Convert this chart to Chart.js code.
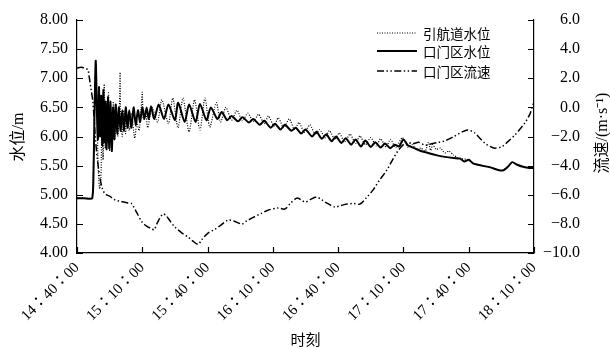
<!DOCTYPE html>
<html>
<head>
<meta charset="utf-8">
<script src="https://cdn.jsdelivr.net/npm/chart.js@4/dist/chart.umd.min.js"></script>
<style>
  html, body { margin: 0; padding: 0; background: #fff; }
  #wrap { width: 610px; height: 348px; position: relative; }
</style>
</head>
<body>
<div id="wrap"><canvas id="c"></canvas></div>
<script>
// Time axis: minutes after 14:40:00, ticks every 30 min
const tickLabels = ['14：40：00', '15：10：00', '15：40：00', '16：10：00',
                    '16：40：00', '17：10：00', '17：40：00', '18：10：00'];

// 引航道水位 (m)
const channelTimes = [
  0, 3, 6, 7, 7.6, 8.2, 8.8, 9.3, 9.8, 10.4,
  11, 11.5, 12, 12.5, 13, 13.5, 14, 14.5, 15, 15.5,
  16, 16.7, 17.3, 18, 18.7, 19.5, 19.8, 20.1, 20.8, 21.5,
  22.3, 23, 24, 25, 26.5, 27.5, 28.5, 29.5, 30, 30.4,
  31.5, 32.5, 34.5, 37,
  39, 42, 44, 46.4, 48.7, 51.5, 54, 56.5, 58.8, 61,
  64, 66, 68.4, 71, 73.5, 76, 78.5, 81, 83.5, 86,
  88, 90.5, 92.5, 95, 97.5, 100, 102, 104.5, 107, 109.5,
  111.5, 114, 116, 118.5, 120.5, 123, 125.5, 128, 130, 132.5,
  135, 137.5, 139.5, 142, 144, 146.5, 149.5, 152,
  154, 156, 158, 160, 161.5, 162.5, 163.5, 165, 167, 169,
  171, 173, 175, 177,
  180, 182, 186, 190, 194, 196, 198, 200, 202, 205, 208, 210
];
const channelLevels = [
  4.95, 4.94, 4.94, 4.95, 5.6, 6.8, 7.22, 6.2, 5.4, 5.1,
  5.3, 6.4, 5.6, 6.9, 5.8, 6.6, 5.9, 6.75, 5.75, 6.5,
  5.85, 6.6, 5.95, 6.45, 6.0, 6.5, 7.1, 6.3, 6.0, 6.45,
  6.05, 6.4, 6.1, 6.4, 5.97, 6.25, 6.1, 6.5, 6.76, 6.3,
  6.45, 6.15, 6.5, 6.25,
  6.63, 6.22, 6.66, 6.15, 6.66, 6.08, 6.63, 6.11, 6.66, 6.16,
  6.58, 6.25, 6.5, 6.28, 6.45, 6.27, 6.4, 6.26, 6.38, 6.22,
  6.35, 6.18, 6.32, 6.15, 6.30, 6.12, 6.24, 6.07, 6.20, 6.03,
  6.12, 5.98, 6.10, 5.95, 6.06, 5.91, 6.04, 5.88, 6.01, 5.86,
  5.98, 5.84, 5.96, 5.82, 5.95, 5.81, 5.98, 5.82,
  5.86, 5.78, 5.8, 5.75, 5.9, 5.76, 5.86, 5.78, 5.8, 5.72,
  5.75, 5.68, 5.64, 5.62,
  5.6, 5.54, 5.5, 5.47, 5.42, 5.42, 5.48, 5.56, 5.52, 5.48, 5.46, 5.46
];

// 口门区水位 (m)
const mouthTimes = [
  0, 3, 6, 7, 7.5, 8, 8.6, 9.1, 9.6, 10.1,
  10.6, 11.1, 11.6, 12.1, 12.6, 13.1, 13.6, 14.2, 14.8, 15.4,
  16, 16.6, 17.2, 17.8, 18.5, 19.2, 20, 20.8, 21.6, 22.4,
  23.2, 24, 25, 26, 27, 28, 29, 30, 31, 32,
  33, 34, 35.5, 37.5, 40, 42, 45, 46.5, 49.5, 51.5,
  54.5, 56.5, 59.5, 61.5, 64.5, 66.5, 69, 71, 74, 76,
  79, 81, 84, 86, 89, 91, 93.5, 95.5, 98.5, 100.5,
  103, 105, 108, 110, 112.5, 114.5, 117, 119, 121.5, 123.5,
  126, 128, 130.5, 132.5, 135, 137, 139.5, 141.5, 144, 146,
  148, 150, 152, 155, 158, 161, 165, 169, 173, 176,
  178, 180, 182, 186, 190, 194, 196, 198, 200, 202,
  205, 208, 210
];
const mouthLevels = [
  4.94, 4.94, 4.93, 4.94, 5.2, 6.3, 7.3, 6.5, 5.95, 6.85,
  6.0, 6.7, 5.85, 6.8, 5.9, 6.6, 5.78, 6.68, 5.8, 6.6,
  5.75, 6.5, 5.95, 6.55, 6.05, 6.5, 6.1, 6.45, 6.1, 6.5,
  6.15, 6.45, 6.15, 6.5, 6.2, 6.45, 6.25, 6.5, 6.3, 6.5,
  6.3, 6.52, 6.3, 6.55, 6.3, 6.55, 6.28, 6.58, 6.25, 6.55,
  6.25, 6.56, 6.28, 6.5, 6.3, 6.42, 6.28, 6.35, 6.26, 6.33,
  6.24, 6.3, 6.2, 6.27, 6.15, 6.22, 6.12, 6.2, 6.1, 6.15,
  6.05, 6.12, 6.0, 6.08, 5.96, 6.04, 5.92, 6.0, 5.89, 5.97,
  5.86, 5.95, 5.83, 5.93, 5.82, 5.9, 5.81, 5.88, 5.8, 5.86,
  5.83, 5.95, 5.85, 5.8, 5.75, 5.72, 5.68, 5.65, 5.63, 5.62,
  5.57, 5.6, 5.54, 5.5, 5.47, 5.42, 5.42, 5.48, 5.56, 5.52,
  5.48, 5.46, 5.46
];

// 口门区流速 (m/s)
const speedTimes = [
  0, 2, 4, 5, 5.5, 6.5, 7.3, 8.3, 9.3, 10.5,
  11.7, 13, 15, 17.5, 20, 23.4, 25, 27, 29.9, 32,
  34.5, 35.5, 37, 39.5, 41, 43, 45, 48, 51, 53,
  55.6, 57.5, 60.2, 63, 66, 69.4, 72, 75.8, 78, 81,
  85, 88, 92.3, 95.5, 98, 101, 103, 105, 107, 110,
  112, 114.8, 118.5, 121, 124, 127, 130, 133, 136, 139,
  142.4, 145, 148.4, 151.6, 154.3, 157, 160, 163, 166, 169,
  172.7, 176.8, 179.6, 182.8, 185, 187.4, 190, 192, 195.2, 198,
  201.2, 203.5, 205.8, 208, 209.5, 210
];
const speedValues = [
  2.7, 2.75, 2.65, 2.6, 2.2, 1.2, 0.4, -1.8, -3.5, -4.8,
  -5.6, -5.95, -6.1, -6.36, -6.45, -6.57, -6.6, -7.1, -7.87, -8.15,
  -8.35, -8.4, -7.9, -7.32, -7.45, -7.85, -8.22, -8.6, -8.9, -9.15,
  -9.4, -9.05, -8.63, -8.4, -8.1, -7.74, -7.8, -8.01, -7.8, -7.55,
  -7.26, -7.05, -6.91, -6.98, -6.6, -6.23, -6.35, -6.5, -6.35, -6.16,
  -6.3, -6.57, -6.84, -6.75, -6.64, -6.6, -6.64, -6.2, -5.68, -5.0,
  -4.3, -3.6, -2.8, -2.4, -2.5, -2.4, -2.6, -2.5, -2.4, -2.3,
  -2.04, -1.7, -1.55, -1.76, -2.1, -2.45, -2.7, -2.8, -2.7, -2.35,
  -1.9, -1.5, -1.07, -0.5, 0.17, 0.3
];

const pairs = (xs, ys) => xs.map((x, i) => ({ x, y: ys[i] }));

const SERIF = "'Liberation Serif', 'Times New Roman', 'Noto Sans CJK JP', serif";
const CJK = "'Noto Sans CJK SC', 'Liberation Serif', sans-serif";
const MIXED = "'Liberation Serif', 'Noto Sans CJK SC', serif";
const DASH_DOTTED = [1, 1.5];
const DASH_DOT_DOT = [7, 2.5, 1.4, 2.5, 1.4, 2.5];

Chart.defaults.font.family = SERIF;
Chart.defaults.color = '#000';
Chart.defaults.animation = false;

// Inward tick marks on the three axes
const inwardTicks = {
  id: 'inwardTicks',
  afterDraw(chart) {
    const { ctx, chartArea: a, scales } = chart;
    const len = 6;
    ctx.save();
    ctx.strokeStyle = '#000';
    ctx.lineWidth = 1.2;
    ctx.beginPath();
    scales.x.ticks.forEach((t, i) => {
      const px = Math.round(scales.x.getPixelForTick(i)) + 0.5;
      ctx.moveTo(px, a.bottom); ctx.lineTo(px, a.bottom - len);
    });
    scales.y.ticks.forEach((t, i) => {
      const py = Math.round(scales.y.getPixelForTick(i)) + 0.5;
      ctx.moveTo(a.left, py); ctx.lineTo(a.left + len, py);
    });
    scales.y1.ticks.forEach((t, i) => {
      const py = Math.round(scales.y1.getPixelForTick(i)) + 0.5;
      ctx.moveTo(a.right, py); ctx.lineTo(a.right - len, py);
    });
    ctx.stroke();
    ctx.restore();
  }
};

// Axis titles and the in-plot legend
const titlesAndLegend = {
  id: 'titlesAndLegend',
  afterDraw(chart) {
    const { ctx, chartArea: a } = chart;
    ctx.save();
    ctx.fillStyle = '#000';
    ctx.textAlign = 'center';
    ctx.textBaseline = 'middle';
    ctx.font = '16px ' + MIXED;

    // left title
    ctx.save();
    ctx.translate(19, 137);
    ctx.rotate(-Math.PI / 2);
    ctx.fillText('水位/m', 0, 0);
    ctx.restore();

    // right title
    ctx.save();
    ctx.translate(603, 133);
    ctx.rotate(-Math.PI / 2);
    ctx.fillText('流速/(m·s⁻¹)', 0, 0);
    ctx.restore();

    // bottom title
    ctx.font = '15px ' + CJK;
    ctx.fillText('时刻', (a.left + a.right) / 2, 339);

    // legend
    const rows = [33, 51, 71];
    ctx.font = '13.5px ' + CJK;
    ctx.textAlign = 'left';
    chart.data.datasets.forEach((ds, i) => {
      const y = rows[i];
      ctx.save();
      ctx.strokeStyle = '#000';
      ctx.lineWidth = ds.borderWidth;
      ctx.setLineDash(ds.borderDash || []);
      ctx.beginPath();
      ctx.moveTo(377, y); ctx.lineTo(417, y);
      ctx.stroke();
      ctx.restore();
      ctx.fillText(ds.label, 423, y + 1);
    });
    ctx.restore();
  }
};

new Chart(document.getElementById('c'), {
  type: 'line',
  data: {
    datasets: [
      {
        label: '引航道水位',
        data: pairs(channelTimes, channelLevels),
        yAxisID: 'y',
        borderColor: '#000',
        borderWidth: 1.2,
        borderDash: DASH_DOTTED,
        tension: 0.25,
        pointRadius: 0
      },
      {
        label: '口门区水位',
        data: pairs(mouthTimes, mouthLevels),
        yAxisID: 'y',
        borderColor: '#000',
        borderWidth: 2,
        tension: 0.25,
        pointRadius: 0
      },
      {
        label: '口门区流速',
        data: pairs(speedTimes, speedValues),
        yAxisID: 'y1',
        borderColor: '#000',
        borderWidth: 1.5,
        borderDash: DASH_DOT_DOT,
        tension: 0.3,
        pointRadius: 0
      }
    ]
  },
  options: {
    responsive: true,
    maintainAspectRatio: false,
    layout: { padding: { top: 20, left: 0, right: 30, bottom: 0 } },
    plugins: { legend: { display: false }, tooltip: { enabled: false } },
    scales: {
      x: {
        type: 'linear',
        min: 0, max: 210,
        afterFit: s => { s.height = 95; },
        afterBuildTicks: s => {
          s.ticks = tickLabels.map((_, i) => ({ value: i * 30 }));
        },
        ticks: {
          autoSkip: false,
          maxRotation: 45, minRotation: 45,
          padding: 6,
          font: { size: 15, family: SERIF },
          callback: (v) => tickLabels[Math.round(v / 30)]
        },
        grid: { display: true, drawOnChartArea: false, drawTicks: false },
        border: { display: true, color: '#000', width: 1.2 }
      },
      y: {
        position: 'left',
        min: 4, max: 8,
        afterFit: s => { s.width = 77; },
        ticks: {
          stepSize: 0.5,
          padding: 9,
          font: { size: 16, family: SERIF },
          callback: v => v.toFixed(2)
        },
        grid: { display: true, drawOnChartArea: false, drawTicks: false },
        border: { display: true, color: '#000', width: 1.2 }
      },
      y1: {
        position: 'right',
        min: -10, max: 6,
        afterFit: s => { s.width = 46; },
        ticks: {
          stepSize: 2,
          padding: 8,
          crossAlign: 'far',
          font: { size: 16, family: SERIF },
          callback: v => (v < 0 ? '−' : '') + Math.abs(v).toFixed(1)
        },
        grid: { display: true, drawOnChartArea: false, drawTicks: false },
        border: { display: true, color: '#000', width: 1.2 }
      }
    }
  },
  plugins: [inwardTicks, titlesAndLegend]
});
</script>
</body>
</html>
